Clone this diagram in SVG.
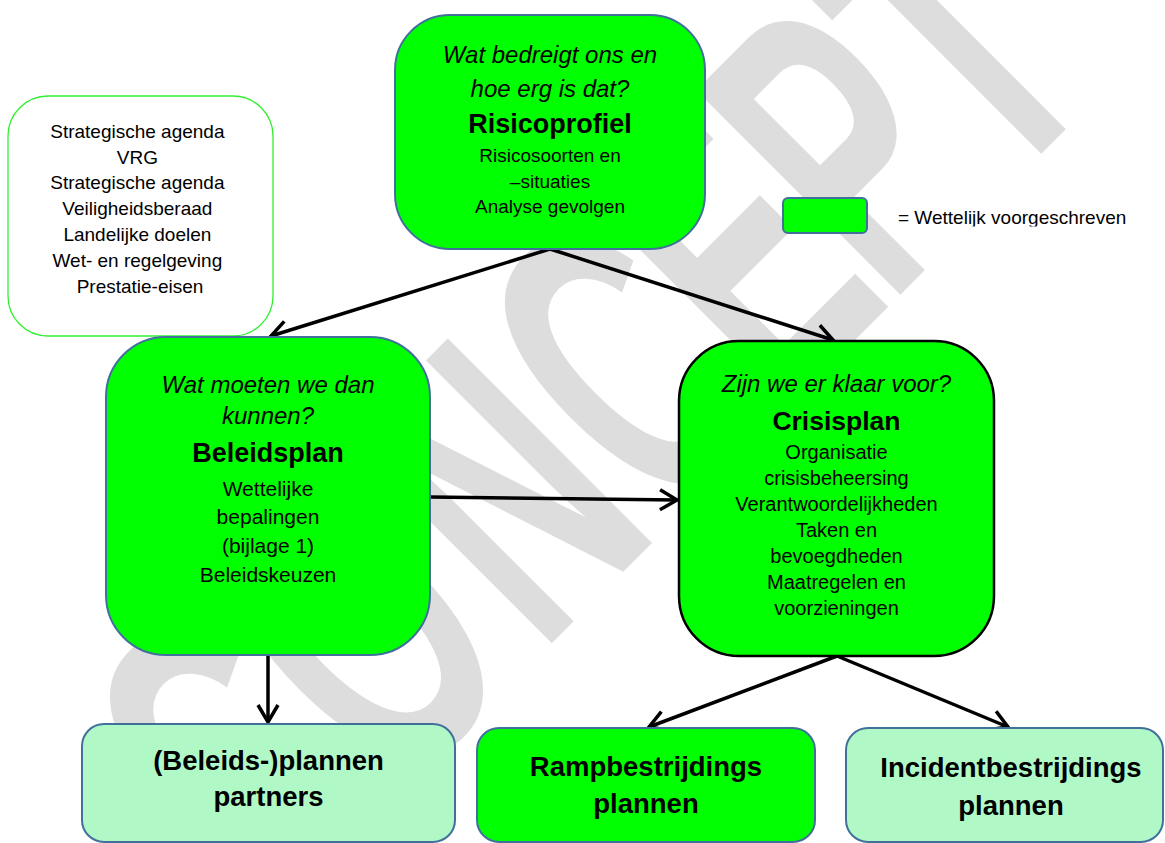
<svg xmlns="http://www.w3.org/2000/svg" width="1165" height="843" viewBox="0 0 1165 843">
<style>
.t{font-family:"Liberation Sans",Arial,sans-serif;fill:#000;text-anchor:middle}
.it{font-style:italic;font-size:24px}
.hd{font-weight:bold;font-size:27px}
.bt{font-weight:bold;font-size:27.5px}
.box{fill:#00ff00;stroke:#41709c;stroke-width:2}
.lt{fill:#b0f9c6;stroke:#41709c;stroke-width:2}
.cn{stroke:#000;stroke-width:3.5;fill:none;marker-end:url(#ah)}
.wm{font-family:"Liberation Sans",Arial,sans-serif;font-weight:bold;font-size:420px;fill:#dddddd;text-anchor:middle}
</style>
<defs>
<marker id="ah" markerUnits="userSpaceOnUse" viewBox="-24 -14 28 28" markerWidth="28" markerHeight="28" refX="0" refY="0" orient="auto" overflow="visible">
<path d="M-17,-10 L0,0 L-17,10" fill="none" stroke="#000" stroke-width="3.5"/>
</marker>
<clipPath id="legclip"><rect x="880" y="195" width="285" height="31.5"/></clipPath>
</defs>
<rect width="1165" height="843" fill="#fff"/>
<g id="watermark">
<text class="wm" transform="translate(597.5,597.5) rotate(-45) scale(0.574,1)" x="-650.2 -334.5 11.1 322.8 592.7 858.2 1123.7" y="0">CONCEPT</text>
</g>
<g id="connectors">
<line class="cn" x1="550" y1="249" x2="271" y2="336"/>
<line class="cn" x1="550" y1="249" x2="833" y2="340"/>
<line class="cn" x1="430" y1="497" x2="677" y2="500"/>
<line class="cn" x1="268" y1="655" x2="268" y2="722"/>
<line class="cn" x1="837" y1="656" x2="649" y2="727"/>
<line class="cn" x1="837" y1="656" x2="1008" y2="727"/>
</g>
<g id="sources">
<rect x="8" y="96" width="265" height="240" rx="40" fill="#fff" stroke="#33ee33" stroke-width="1.3"/>
<text class="t" font-size="19">
<tspan x="140" y="138">Strategische agenda</tspan>
<tspan x="140" y="164">VRG</tspan>
<tspan x="140" y="189">Strategische agenda</tspan>
<tspan x="140" y="215">Veiligheidsberaad</tspan>
<tspan x="140" y="241">Landelijke doelen</tspan>
<tspan x="140" y="267">Wet- en regelgeving</tspan>
<tspan x="140" y="293">Prestatie-eisen</tspan>
</text>
</g>
<g id="risicoprofiel">
<rect class="box" x="395" y="15" width="310" height="234" rx="55"/>
<text class="t it"><tspan x="550" y="63">Wat bedreigt ons en</tspan><tspan x="550" y="97">hoe erg is dat?</tspan></text>
<text class="t hd" x="550" y="133">Risicoprofiel</text>
<text class="t" font-size="19"><tspan x="550" y="162">Risicosoorten en</tspan><tspan x="550" y="188">–situaties</tspan><tspan x="550" y="213">Analyse gevolgen</tspan></text>
</g>
<g id="legend">
<rect class="box" x="783" y="198" width="84" height="35" rx="5" stroke-width="2.5"/>
<text clip-path="url(#legclip)" font-family="Liberation Sans, Arial, sans-serif" font-size="19" x="898" y="224">= Wettelijk voorgeschreven</text>
</g>
<g id="beleidsplan">
<rect class="box" x="106" y="337" width="324" height="318" rx="60"/>
<text class="t it"><tspan x="268" y="393">Wat moeten we dan</tspan><tspan x="268" y="424">kunnen?</tspan></text>
<text class="t hd" x="268" y="462">Beleidsplan</text>
<text class="t" font-size="21"><tspan x="268" y="496">Wettelijke</tspan><tspan x="268" y="524">bepalingen</tspan><tspan x="268" y="553">(bijlage 1)</tspan><tspan x="268" y="582">Beleidskeuzen</tspan></text>
</g>
<g id="crisisplan">
<rect x="679" y="341" width="315" height="315" rx="60" fill="#00ff00" stroke="#000" stroke-width="2.5"/>
<text class="t it" x="836.5" y="392">Zijn we er klaar voor?</text>
<text class="t" font-weight="bold" font-size="26.5" x="836.5" y="430">Crisisplan</text>
<text class="t" font-size="20"><tspan x="836.5" y="459">Organisatie</tspan><tspan x="836.5" y="485">crisisbeheersing</tspan><tspan x="836.5" y="511">Verantwoordelijkheden</tspan><tspan x="836.5" y="537">Taken en</tspan><tspan x="836.5" y="563">bevoegdheden</tspan><tspan x="836.5" y="589">Maatregelen en</tspan><tspan x="836.5" y="615">voorzieningen</tspan></text>
</g>
<g id="partners">
<rect class="lt" x="82" y="724" width="373" height="118" rx="22"/>
<text class="t bt"><tspan x="268.5" y="770">(Beleids-)plannen</tspan><tspan x="268.5" y="806">partners</tspan></text>
</g>
<g id="rampbestrijding">
<rect class="box" x="477" y="728" width="338" height="114" rx="22"/>
<text class="t bt"><tspan x="646" y="776">Rampbestrijdings</tspan><tspan x="646" y="813">plannen</tspan></text>
</g>
<g id="incidentbestrijding">
<rect class="lt" x="846" y="728" width="317" height="114" rx="22"/>
<text class="t bt"><tspan x="1011" y="777">Incidentbestrijdings</tspan><tspan x="1011" y="815">plannen</tspan></text>
</g>
</svg>
